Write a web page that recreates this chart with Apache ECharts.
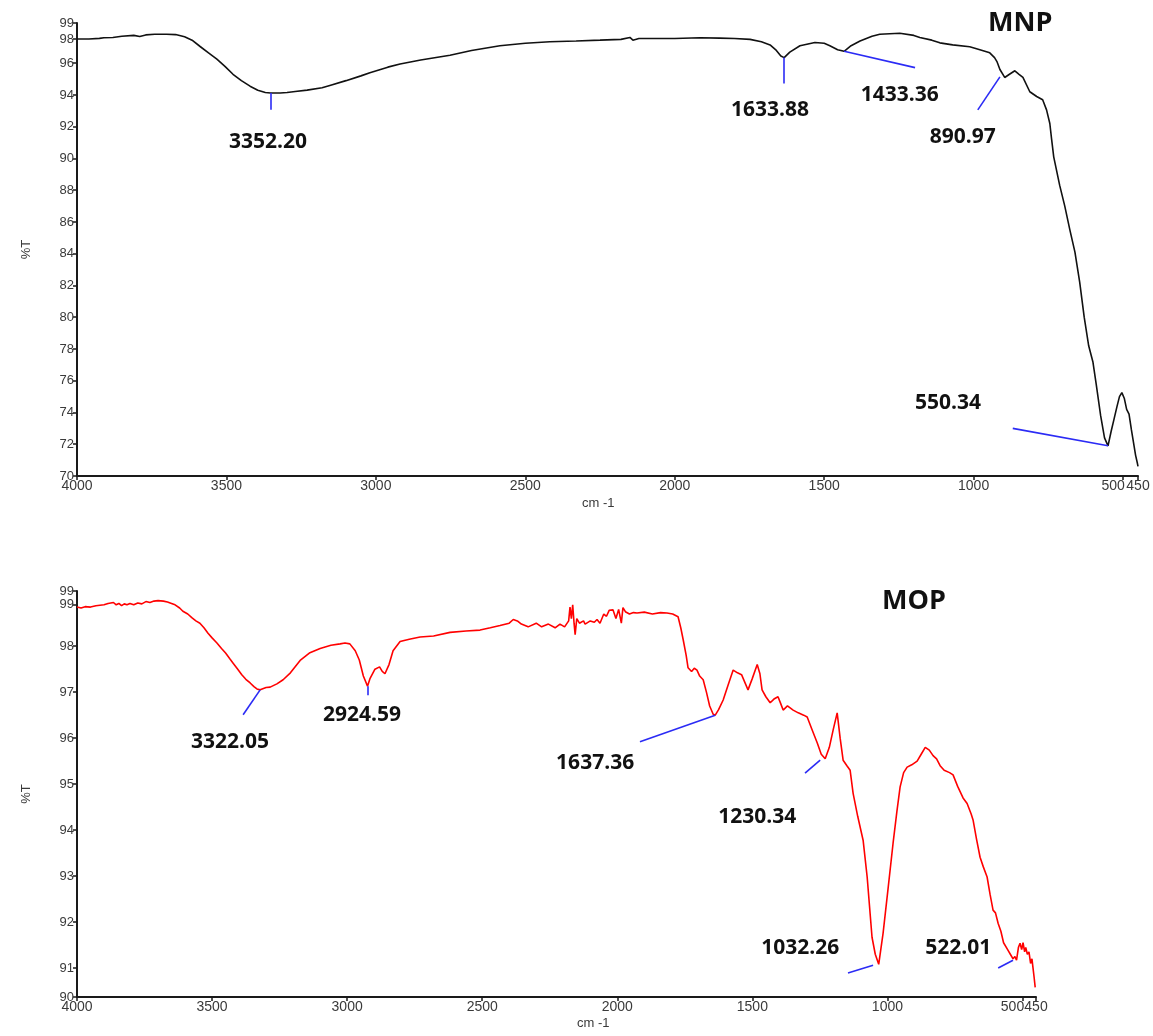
<!DOCTYPE html>
<html>
<head>
<meta charset="utf-8">
<title>FTIR spectra – MNP / MOP</title>
<script src="https://cdn.jsdelivr.net/npm/echarts@6/dist/echarts.min.js"></script>
<style>
  html, body { margin: 0; padding: 0; background: #fff; }
  #chart { width: 1153px; height: 1036px; }
</style>
</head>
<body>
<div id="chart"></div>
<script>
// ---- Wavenumber ticks (cm-1), shared by both panels ----
const xTicks = [4000, 3500, 3000, 2500, 2000, 1500, 1000, 500, 450];

// ---- %T tick positions (the end ticks carry rounded labels) ----
const yTicksMNP = [70, 72, 74, 76, 78, 80, 82, 84, 86, 88, 90, 92, 94, 96, 97.52, 98.53];
const yTicksMOP = [90.37, 91, 92, 93, 94, 95, 96, 97, 98, 98.91, 99.2];

// ---- MNP spectrum: [wavenumber, %T] ----
const mnpSpectrum = [
  [4000, 97.52], [3960, 97.52], [3925, 97.56], [3910, 97.6], [3880, 97.62], [3850, 97.7],
  [3810, 97.75], [3790, 97.68], [3770, 97.78], [3740, 97.82], [3700, 97.82], [3670, 97.8],
  [3640, 97.66], [3615, 97.45], [3588, 97.05], [3560, 96.65], [3532, 96.25], [3505, 95.8],
  [3478, 95.3], [3450, 94.9], [3421, 94.55], [3395, 94.3], [3370, 94.15], [3352.2, 94.12],
  [3320, 94.12], [3297, 94.15], [3270, 94.22], [3230, 94.3], [3180, 94.45], [3154, 94.6],
  [3100, 94.9], [3050, 95.2], [3020, 95.4], [2960, 95.75], [2919, 95.95], [2850, 96.2],
  [2752, 96.5], [2680, 96.8], [2585, 97.1], [2500, 97.25], [2418, 97.35], [2330, 97.4],
  [2250, 97.45], [2180, 97.5], [2150, 97.62], [2140, 97.45], [2120, 97.55], [2080, 97.55],
  [2000, 97.55], [1916, 97.6], [1850, 97.58], [1800, 97.55], [1748, 97.5], [1710, 97.35],
  [1681, 97.15], [1660, 96.8], [1645, 96.45], [1633.88, 96.35], [1615, 96.7], [1581, 97.1],
  [1531, 97.3], [1500, 97.25], [1481, 97.1], [1455, 96.85], [1433.36, 96.75], [1410, 97.1],
  [1380, 97.4], [1340, 97.7], [1314, 97.82], [1247, 97.88], [1200, 97.75], [1180, 97.62],
  [1140, 97.45], [1113, 97.28], [1070, 97.15], [1013, 97.03], [979, 96.85], [946, 96.65],
  [930, 96.35], [922, 96.1], [912, 95.6], [896, 95.1], [890.97, 95.05], [880, 95.3],
  [862, 95.52], [848, 95.3], [835, 95.1], [812, 94.2], [789, 93.9], [769, 93.7],
  [756, 93.06], [745, 92.2], [739, 91.2], [732, 90.1], [712, 88.3], [695, 87.0],
  [678, 85.5], [661, 84.1], [645, 82.2], [630, 80.0], [615, 78.2], [601, 77.2],
  [590, 75.8], [575, 73.8], [562, 72.4], [550.34, 71.9], [540, 72.8], [530, 73.6],
  [520, 74.4], [512, 75.0], [504, 75.25], [496, 74.9], [488, 74.2], [480, 73.9],
  [472, 72.9], [465, 72.1], [458, 71.3], [452, 70.8], [450, 70.6]
];

// ---- MOP spectrum: [wavenumber, %T] ----
const mopSpectrum = [
  [4000, 98.85], [3985, 98.83], [3970, 98.86], [3950, 98.85], [3930, 98.88], [3915, 98.89],
  [3900, 98.9], [3885, 98.93], [3878, 98.9], [3865, 98.95], [3855, 98.9], [3845, 98.93],
  [3835, 98.88], [3825, 98.92], [3815, 98.9], [3804, 98.93], [3790, 98.9], [3775, 98.94],
  [3760, 98.92], [3745, 98.97], [3730, 98.95], [3715, 98.98], [3700, 98.99], [3693, 99.0],
  [3680, 98.98], [3665, 98.96], [3650, 98.93], [3637, 98.9], [3620, 98.83], [3608, 98.76],
  [3590, 98.7], [3575, 98.62], [3560, 98.55], [3545, 98.5], [3530, 98.4], [3515, 98.28],
  [3500, 98.18], [3482, 98.07], [3465, 97.95], [3450, 97.85], [3435, 97.73], [3422, 97.63],
  [3405, 97.5], [3390, 97.38], [3375, 97.28], [3359, 97.2], [3345, 97.12], [3334, 97.07],
  [3322.05, 97.05], [3300, 97.1], [3285, 97.11], [3260, 97.18], [3237, 97.27], [3210, 97.42],
  [3174, 97.69], [3140, 97.85], [3100, 97.95], [3060, 98.02], [3026, 98.05], [3008, 98.07],
  [2990, 98.05], [2970, 97.9], [2955, 97.7], [2940, 97.35], [2924.59, 97.13], [2915, 97.3],
  [2897, 97.5], [2880, 97.55], [2870, 97.45], [2860, 97.4], [2845, 97.6], [2830, 97.9],
  [2804, 98.1], [2770, 98.15], [2730, 98.2], [2680, 98.22], [2619, 98.3], [2560, 98.33],
  [2508, 98.35], [2470, 98.4], [2434, 98.45], [2400, 98.5], [2385, 98.58], [2378, 98.62],
  [2370, 98.55], [2355, 98.48], [2330, 98.42], [2300, 98.5], [2280, 98.42], [2255, 98.48],
  [2230, 98.4], [2212, 98.48], [2195, 98.42], [2180, 98.55], [2175, 98.85], [2170, 98.6],
  [2165, 98.9], [2160, 98.5], [2156, 98.25], [2150, 98.6], [2140, 98.5], [2125, 98.55],
  [2119, 98.48], [2100, 98.55], [2085, 98.52], [2075, 98.58], [2064, 98.5], [2050, 98.7],
  [2040, 98.65], [2030, 98.78], [2016, 98.79], [2005, 98.6], [1995, 98.8], [1985, 98.5],
  [1979, 98.84], [1970, 98.75], [1955, 98.7], [1940, 98.73], [1927, 98.72], [1900, 98.74],
  [1870, 98.7], [1840, 98.73], [1816, 98.72], [1795, 98.7], [1775, 98.64], [1765, 98.4],
  [1756, 98.14], [1745, 97.8], [1738, 97.53], [1725, 97.45], [1715, 97.52], [1705, 97.48],
  [1695, 97.35], [1682, 97.27], [1670, 97.0], [1658, 96.7], [1645, 96.52], [1637.36, 96.5],
  [1625, 96.62], [1608, 96.83], [1590, 97.15], [1571, 97.48], [1555, 97.42], [1540, 97.38],
  [1534, 97.34], [1516, 97.05], [1500, 97.3], [1482, 97.6], [1472, 97.4], [1464, 97.05],
  [1450, 96.9], [1434, 96.77], [1420, 96.85], [1405, 96.9], [1395, 96.75], [1386, 96.61],
  [1370, 96.7], [1349, 96.61], [1330, 96.55], [1310, 96.5], [1297, 96.46], [1280, 96.2],
  [1260, 95.9], [1245, 95.65], [1230.34, 95.55], [1215, 95.8], [1200, 96.2], [1186, 96.55],
  [1175, 96.0], [1164, 95.52], [1150, 95.4], [1138, 95.3], [1127, 94.8], [1110, 94.3],
  [1090, 93.78], [1075, 92.98], [1057, 91.67], [1045, 91.3], [1032.26, 91.08], [1016, 91.76],
  [997, 92.76], [979, 93.72], [965, 94.4], [953, 94.94], [940, 95.25], [927, 95.37],
  [910, 95.42], [890, 95.5], [875, 95.65], [860, 95.8], [845, 95.74], [831, 95.62],
  [818, 95.55], [805, 95.4], [790, 95.3], [770, 95.25], [757, 95.2], [740, 94.95],
  [720, 94.7], [705, 94.58], [690, 94.35], [683, 94.22], [670, 93.8], [657, 93.41],
  [645, 93.2], [631, 92.98], [620, 92.6], [609, 92.26], [600, 92.2], [590, 91.97],
  [580, 91.8], [570, 91.55], [564, 91.54], [555, 91.4], [545, 91.3], [535, 91.2],
  [528, 91.25], [522.01, 91.17], [515, 91.45], [509, 91.54], [503, 91.4], [498, 91.55],
  [492, 91.35], [488, 91.45], [482, 91.3], [476, 91.35], [470, 91.1], [465, 91.2],
  [461, 91.0], [457, 90.8], [453, 90.58]
];

// ---- Peak annotations: label text ----
const mnpPeaks = ['3352.20', '1633.88', '1433.36', '890.97', '550.34'];
const mopPeaks = ['3322.05', '2924.59', '1637.36', '1230.34', '1032.26', '522.01'];

// Leader lines (data coords: [from], [to]) and label anchors for each peak
const mnpLeaders = [
  [[3352.2, 94.12], [3352.2, 93.06]],
  [[1633.88, 96.35], [1633.88, 94.72]],
  [[1433.36, 96.75], [1196, 95.72]],
  [[912, 95.14], [986, 93.06]],
  [[550.34, 71.9], [869, 73.0]]
];
const mnpAnchors = [[3361, 91.05], [1681, 93.06], [1247, 94.0], [1036, 91.36], [1086, 74.6]];

const mopLeaders = [
  [[3322.05, 97.05], [3385, 96.51]],
  [[2924.59, 97.13], [2924.59, 96.93]],
  [[1637.36, 96.5], [1916, 95.92]],
  [[1249, 95.52], [1305, 95.24]],
  [[1053, 91.06], [1146, 90.89]],
  [[535, 91.17], [590, 91.0]]
];
const mopAnchors = [[3434, 95.92], [2945, 96.51], [2082, 95.46], [1482, 94.28], [1323, 91.43], [738, 91.43]];

const sampleNames = ['MNP', 'MOP'];

// ---- shared styles ----
const tickFont = { fontFamily: 'Liberation Sans, Arial, sans-serif', fontSize: 14, color: '#3a3a3a' };
const yTickFont = { fontFamily: 'Liberation Sans, Arial, sans-serif', fontSize: 13, color: '#3a3a3a' };
const peakFont = { fontFamily: 'Open Sans, sans-serif', fontSize: 21, fontWeight: 'bold', color: '#111111' };
const leaderColor = '#2b2bf5';

// the 500 label sits just left of its tick so it does not collide with 450
function xLabel(v) {
  return v === 500 ? '{shift|500}' : '{n|' + v + '}';
}

function xAxisFor(gridIndex) {
  return {
    gridIndex, type: 'value', inverse: true, min: 450, max: 4000,
    axisLine: { show: true, onZero: false, lineStyle: { color: '#1a1a1a', width: 2 } },
    axisTick: { show: true, length: 4, customValues: xTicks, lineStyle: { color: '#1a1a1a', width: 1.5 } },
    axisLabel: {
      customValues: xTicks, margin: 3, hideOverlap: false, showMinLabel: true, showMaxLabel: true,
      formatter: xLabel,
      rich: {
        n: { ...tickFont },
        shift: { ...tickFont, padding: [0, 20, 0, 0] }
      }
    },
    splitLine: { show: false }
  };
}

function yAxisFor(gridIndex, min, max, ticks) {
  return {
    gridIndex, type: 'value', min, max,
    name: '%T', nameLocation: 'middle', nameGap: 44, nameRotate: 90,
    nameTextStyle: { fontFamily: 'Liberation Sans, Arial, sans-serif', fontSize: 13, color: '#3a3a3a' },
    axisLine: { show: true, onZero: false, lineStyle: { color: '#1a1a1a', width: 2 } },
    axisTick: { show: true, length: 4, customValues: ticks, lineStyle: { color: '#1a1a1a', width: 1.5 } },
    axisLabel: {
      customValues: ticks, margin: 3,
      formatter: v => String(Math.round(v)), ...yTickFont
    },
    splitLine: { show: false }
  };
}

function leaderLines(list) {
  return list.map(([a, b]) => [{ coord: a }, { coord: b }]);
}

function peakLabelSeries(idx, names, anchors) {
  return {
    type: 'scatter', xAxisIndex: idx, yAxisIndex: idx, silent: true,
    symbolSize: 0, itemStyle: { color: 'transparent', opacity: 1 },
    data: names.map((n, i) => ({ name: n, value: anchors[i] })),
    label: {
      show: true, position: [0, 0], align: 'center', verticalAlign: 'middle',
      formatter: '{b}', textBorderWidth: 0, opacity: 1, ...peakFont
    },
    z: 5
  };
}

function spectrumSeries(idx, data, color, leaders) {
  return {
    type: 'line', xAxisIndex: idx, yAxisIndex: idx, data,
    showSymbol: false, symbol: 'none', silent: true,
    lineStyle: { color, width: 1.6 },
    markLine: {
      silent: true, symbol: ['none', 'none'], animation: false,
      label: { show: false },
      lineStyle: { color: leaderColor, width: 1.6, type: 'solid' },
      data: leaderLines(leaders)
    }
  };
}

const chart = echarts.init(document.getElementById('chart'), null, { renderer: 'canvas' });
chart.setOption({
  animation: false,
  backgroundColor: '#ffffff',
  grid: [
    { left: 77, right: 15, top: 23, height: 453 },
    { left: 77, right: 117, top: 591, height: 406 }
  ],
  xAxis: [xAxisFor(0), xAxisFor(1)],
  yAxis: [
    yAxisFor(0, 70, 98.53, yTicksMNP),
    yAxisFor(1, 90.37, 99.2, yTicksMOP)
  ],
  graphic: [
    { type: 'text', left: 582, top: 497, style: { text: 'cm -1', font: '13px Liberation Sans, Arial, sans-serif', fill: '#3a3a3a' } },
    { type: 'text', left: 577, top: 1017, style: { text: 'cm -1', font: '13px Liberation Sans, Arial, sans-serif', fill: '#3a3a3a' } },
    { type: 'text', left: 988, top: 10, style: { text: sampleNames[0], font: 'bold 27px Open Sans, sans-serif', fill: '#111111' } },
    { type: 'text', left: 882, top: 588, style: { text: sampleNames[1], font: 'bold 27px Open Sans, sans-serif', fill: '#111111' } }
  ],
  series: [
    spectrumSeries(0, mnpSpectrum, '#111111', mnpLeaders),
    spectrumSeries(1, mopSpectrum, '#ff0000', mopLeaders),
    peakLabelSeries(0, mnpPeaks, mnpAnchors),
    peakLabelSeries(1, mopPeaks, mopAnchors)
  ]
});
</script>
</body>
</html>
